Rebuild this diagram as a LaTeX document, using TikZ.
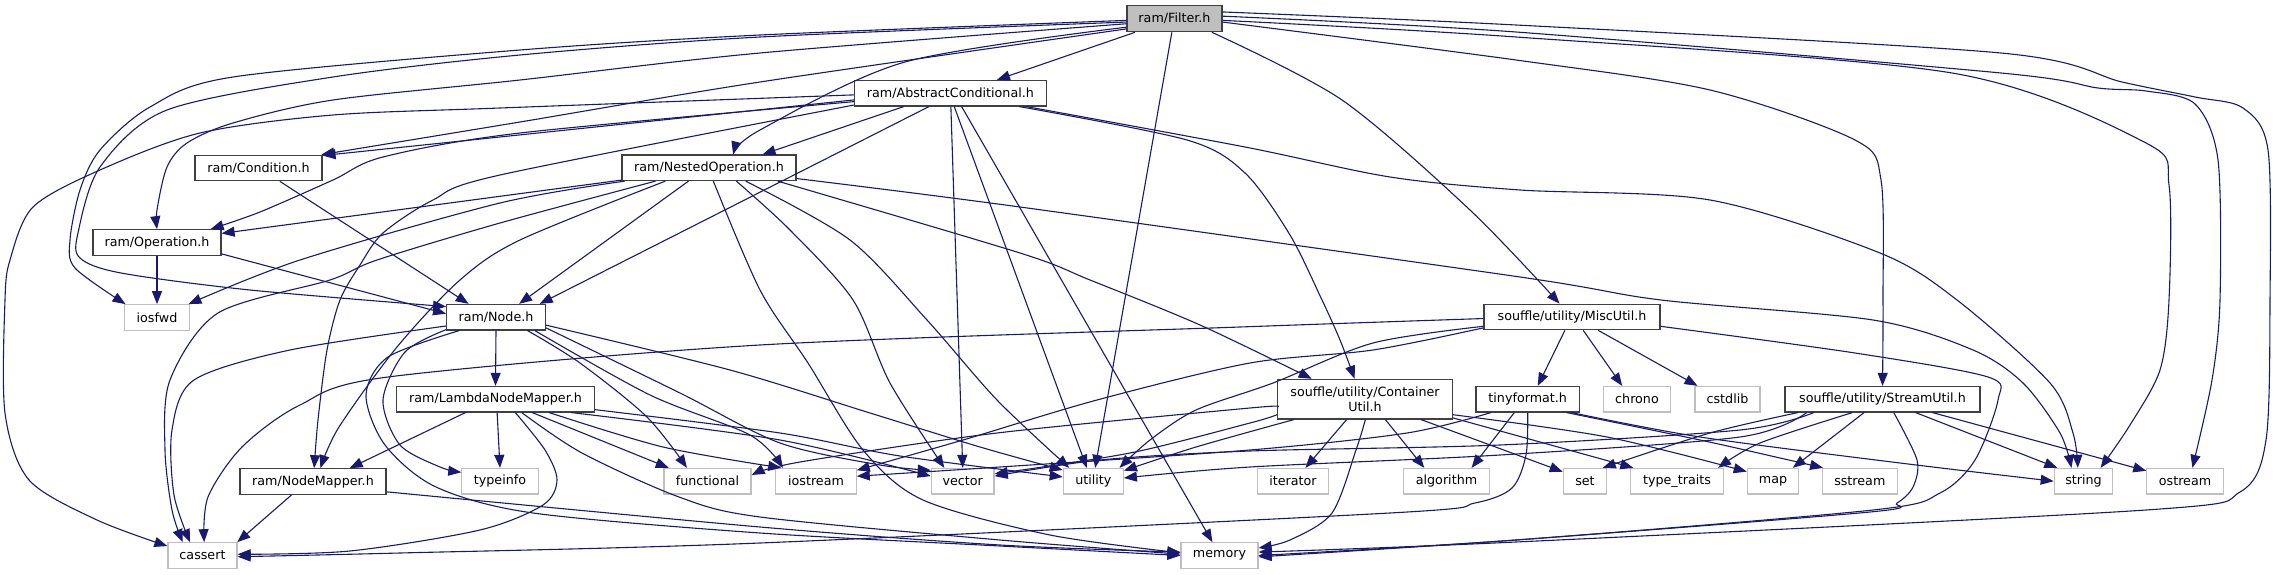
\documentclass[tikz,border=0pt]{standalone}
\usepackage{fontspec}
\setmainfont{DejaVu Sans}
\usetikzlibrary{arrows.meta}
\definecolor{edgeblue}{HTML}{191970}
\definecolor{grayfill}{HTML}{BFBFBF}
\definecolor{darkborder}{HTML}{404040}
\begin{document}
\begin{tikzpicture}[x=1pt,y=-1pt,
  box/.style={rectangle, inner sep=0pt, minimum height=25.5pt, font=\fontsize{12.7}{14.7}\selectfont, line width=1.2pt, text=black},
  proj/.style={box, draw=darkborder, fill=white},
  ext/.style={box, draw=grayfill, fill=white},
  root/.style={box, draw=darkborder, fill=grayfill},
  dep/.style={draw=edgeblue, line width=1.1pt, -{Triangle[length=13pt,width=10pt]}}]
\useasboundingbox (0,0) rectangle (2276,575);
% nodes
\node[root, minimum width=95pt, minimum height=26pt] (F) at (1174.5,18.7) {ram/Filter.h};
\node[proj, minimum width=192pt] (AC) at (950.4,93.2) {ram/AbstractConditional.h};
\node[proj, minimum width=127pt] (Cond) at (258.5,168) {ram/Condition.h};
\node[proj, minimum width=174pt] (NO) at (709,167.8) {ram/NestedOperation.h};
\node[proj, minimum width=128pt] (Op) at (157,242.5) {ram/Operation.h};
\node[ext, minimum width=65pt] (iosfwd) at (157,317.5) {iosfwd};
\node[proj, minimum width=98.6pt] (Node) at (496,317.2) {ram/Node.h};
\node[proj, minimum width=176pt] (Misc) at (1572,317) {souffle/utility/MiscUtil.h};
\node[proj, minimum width=197.6pt] (LNM) at (495.5,399.2) {ram/LambdaNodeMapper.h};
\node[proj, minimum width=174.6pt, minimum height=39.7pt, align=center] (CU) at (1365,399.2) {souffle/utility/Container\\Util.h};
\node[proj, minimum width=103.3pt] (tiny) at (1527.7,399.2) {tinyformat.h};
\node[ext, minimum width=67.4pt] (chrono) at (1637,399.2) {chrono};
\node[ext, minimum width=65pt] (cstdlib) at (1727.5,399.2) {cstdlib};
\node[proj, minimum width=195pt] (SU) at (1882.5,399.2) {souffle/utility/StreamUtil.h};
\node[proj, minimum width=146pt] (NM) at (313,481.5) {ram/NodeMapper.h};
\node[ext, minimum width=76.3pt] (typeinfo) at (500,481.2) {typeinfo};
\node[ext, minimum width=87pt] (functional) at (707.5,481.2) {functional};
\node[ext, minimum width=80.3pt] (iostream) at (816,481.2) {iostream};
\node[ext, minimum width=62.7pt] (vector) at (962.7,481.2) {vector};
\node[ext, minimum width=60pt] (utility) at (1093.3,481.2) {utility};
\node[ext, minimum width=71.4pt] (iterator) at (1293,481.2) {iterator};
\node[ext, minimum width=85.6pt] (algorithm) at (1446.5,481.2) {algorithm};
\node[ext, minimum width=43.4pt] (set) at (1585,481.2) {set};
\node[ext, minimum width=92.3pt] (typetraits) at (1677,481.2) {type\_traits};
\node[ext, minimum width=51.4pt] (map) at (1773,481.2) {map};
\node[ext, minimum width=75pt] (sstream) at (1859.8,481.2) {sstream};
\node[ext, minimum width=58.4pt] (string) at (2083.5,481.2) {string};
\node[ext, minimum width=76.3pt] (ostream) at (2185,481.2) {ostream};
\node[ext, minimum width=69pt] (cassert) at (202.5,555.5) {cassert};
\node[ext, minimum width=77pt] (memory) at (1219.5,555.5) {memory};
% Filter.h
\draw[dep] (F.199) -- (AC.16);
\draw[dep] (F.259) -- (utility.82);
\draw[dep] plot[smooth] coordinates {(F.190) (905,62) (760,130) (NO.29)};
\draw[dep] plot[smooth] coordinates {(F.192) (760,82) (520,122) (Cond.12)};
\draw[dep] plot[smooth] coordinates {(F.186) (760,53) (520,80) (333,100) (233,123) (187,143) (167,167) (157,210) (Op.north)};
\draw[dep] plot[smooth] coordinates {(F.182) (760,35) (520,50) (233,77) (150,107) (100,150) (80,190) (70,240) (75,268) (iosfwd.157)};
\draw[dep] plot[smooth] coordinates {(F.184) (760,37) (520,55) (333,77) (167,110) (100,167) (78,233) (80,258) (121,273) (250,290) (Node.168)};
\draw[dep] plot[smooth] coordinates {(F.340) (1342,100) (1470,210) (Misc.133)};
\draw[dep] plot[smooth] coordinates {(F.356) (1516,60) (1710,90) (1855,140) (1881,180) (1883,300) (SU.north)};
\draw[dep] plot[smooth] coordinates {(F.358) (1516,37) (1952,73) (2146,143) (2169,185) (2169,300) (2160,370) (2130,425) (string.38)};
\draw[dep] plot[smooth] coordinates {(F.3) (1516,32) (2001,73) (2098,88) (2146,91) (2195,104) (2218,160) (2220,300) (2212,380) (ostream.61)};
\draw[dep] plot[smooth] coordinates {(F.8) (1516,25) (2001,53) (2122,82) (2195,97) (2243,108) (2268,150) (2270,300) (2266,440) (2240,492) (2146,510) (1516,542) (memory.5)};
% AbstractConditional.h
\draw[dep] (AC.184) -- (Cond.11);
\draw[dep] plot[smooth] coordinates {(AC.185) (520,133) (383,157) (333,180) (260,212) (Op.14)};
\draw[dep] plot[smooth] coordinates {(AC.181) (500,108) (333,115) (200,133) (100,170) (33,207) (10,260) (5,300) (5,413) (29,480) (97,520) (cassert.165)};
\draw[dep] plot[smooth] coordinates {(AC.187) (500,175) (433,200) (383,233) (360,265) (340,300) (327,350) (318,420) (NM.85)};
\draw[dep] (AC.196) -- (NO.14);
\draw[dep] (AC.212) -- (Node.17);
\draw[dep] (AC.272) -- (vector.90);
\draw[dep] (AC.286) -- (utility.116);
\draw[dep] (AC.310) -- (memory.118);
\draw[dep] plot[smooth] coordinates {(AC.349) (1187,140) (1245,173) (1290,235) (1322,300) (1340,340) (CU.117)};
\draw[dep] plot[smooth] coordinates {(AC.350) (1245,147) (1390,177) (1520,190) (1710,200) (1880,253) (1957,300) (2050,383) (2073,433) (string.113)};
% Condition.h
\draw[dep] (Cond.328) -- (Node.154);
% NestedOperation.h
\draw[dep] (NO.188) -- (Op.8);
\draw[dep] plot[smooth] coordinates {(NO.189) (500,203) (300,260) (iosfwd.23)};
\draw[dep] plot[smooth] coordinates {(NO.194) (500,223) (377,260) (330,280) (218,313) (170,380) (165,450) (172,510) (cassert.146)};
\draw[dep] plot[smooth] coordinates {(NO.197) (520,240) (460,280) (397,347) (339,427) (NM.61)};
\draw[dep] (NO.213) -- (Node.30);
\draw[dep] plot[smooth] coordinates {(NO.288) (760,290) (808,363) (863,450) (923,500) (1050,535) (memory.176)};
\draw[dep] plot[smooth] coordinates {(NO.334) (790,230) (853,300) (890,383) (vector.144)};
\draw[dep] plot[smooth] coordinates {(NO.340) (850,240) (927,320) (997,400) (utility.151)};
\draw[dep] plot[smooth] coordinates {(NO.349) (1020,253) (1090,280) (1200,325) (CU.159)};
\draw[dep] plot[smooth] coordinates {(NO.353) (1020,207) (1520,277) (1661,300) (1873,320) (1973,350) (2023,383) (2060,433) (string.132)};
% Operation.h
\draw[dep] (Op.south) -- (iosfwd.north);
\draw[dep] (Op.350) -- (Node.176);
% Node.h
\draw[dep] (Node.south) -- (LNM.north);
\draw[dep] plot[smooth] coordinates {(Node.190) (290,350) (194,380) (172,430) (174,495) (cassert.133)};
\draw[dep] plot[smooth] coordinates {(Node.194) (405,352) (383,400) (400,445) (440,467) (typeinfo.167)};
\draw[dep] plot[smooth] coordinates {(Node.200) (388,357) (366,395) (385,445) (436,487) (533,513) (760,533) (1000,546) (memory.180)};
\draw[dep] plot[smooth] coordinates {(Node.337) (580,363) (647,417) (functional.147)};
\draw[dep] plot[smooth] coordinates {(Node.341) (650,395) (750,435) (iostream.158)};
\draw[dep] plot[smooth] coordinates {(Node.348) (680,393) (780,443) (880,465) (vector.161)};
\draw[dep] plot[smooth] coordinates {(Node.351) (730,370) (870,413) (980,447) (utility.160)};
% LambdaNodeMapper.h
\draw[dep] (LNM.204) -- (NM.20);
\draw[dep] (LNM.277) -- (typeinfo.90);
\draw[dep] plot[smooth] coordinates {(LNM.326) (545,450) (557,480) (543,505) (480,530) (350,551) (cassert.2)};
\draw[dep] (LNM.340) -- (functional.161);
\draw[dep] plot[smooth] coordinates {(LNM.346) (663,447) (iostream.159)};
\draw[dep] plot[smooth] coordinates {(LNM.350) (780,440) (vector.171)};
\draw[dep] plot[smooth] coordinates {(LNM.354) (780,433) (900,456) (utility.172)};
\draw[dep] plot[smooth] coordinates {(LNM.333) (582,453) (679,497) (760,517) (1000,540) (memory.178)};
% NodeMapper.h
\draw[dep] (NM.212) -- (cassert.21);
\draw[dep] plot[smooth] coordinates {(NM.352) (760,527) (1000,545) (memory.175)};
% MiscUtil.h
\draw[dep] (Misc.242) -- (tiny.53);
\draw[dep] (Misc.310) -- (chrono.138);
\draw[dep] (Misc.333) -- (cstdlib.156);
\draw[dep] plot[smooth] coordinates {(Misc.181) (1240,327) (760,345) (388,377) (300,405) (242,447) (208,497) (cassert.83)};
\draw[dep] plot[smooth] coordinates {(Misc.187) (1373,350) (1250,363) (1097,400) (963,440) (iostream.15)};
\draw[dep] plot[smooth] coordinates {(Misc.186) (1373,343) (1273,383) (1196,410) (1150,440) (utility.27)};
\draw[dep] plot[smooth] coordinates {(Misc.354) (1855,353) (1988,377) (1998,400) (1975,460) (1940,493) (1873,510) (1516,540) (memory.0)};
% tinyformat.h
\draw[dep] (tiny.225) -- (algorithm.28);
\draw[dep] plot[smooth] coordinates {(tiny.270) (1526,455) (1512,488) (1475,503) (1390,513) (760,543) (400,553) (cassert.358)};
\draw[dep] plot[smooth] coordinates {(tiny.200) (1407,433) (1250,450) (1000,467) (iostream.7)};
\draw[dep] plot[smooth] coordinates {(tiny.341) (1700,440) (1780,458) (sstream.160)};
\draw[dep] plot[smooth] coordinates {(tiny.343) (1700,437) (1900,463) (string.180)};
% ContainerUtil.h
\draw[dep] plot[smooth] coordinates {(CU.185) (1250,408) (997,433) (800,462) (functional.8)};
\draw[dep] plot[smooth] coordinates {(CU.190) (1250,423) (1130,453) (vector.13)};
\draw[dep] plot[smooth] coordinates {(CU.196) (1196,447) (utility.19)};
\draw[dep] (CU.228) -- (iterator.47);
\draw[dep] (CU.315) -- (algorithm.149);
\draw[dep] plot[smooth] coordinates {(CU.271) (1356,450) (1332,513) (1290,540) (memory.11)};
\draw[dep] (CU.340) -- (set.157);
\draw[dep] (CU.348) -- (typetraits.163);
\draw[dep] plot[smooth] coordinates {(CU.350) (1607,437) (map.160)};
% StreamUtil.h
\draw[dep] plot[smooth] coordinates {(SU.189) (1710,433) (set.37)};
\draw[dep] plot[smooth] coordinates {(SU.204) (1760,443) (typetraits.18)};
\draw[dep] (SU.216) -- (map.34);
\draw[dep] plot[smooth] coordinates {(SU.310) (1917,460) (1913,487) (1897,503) (1870,512) (1516,540) (memory.358)};
\draw[dep] (SU.338) -- (string.153);
\draw[dep] (SU.345) -- (ostream.165);
\draw[dep] plot[smooth] coordinates {(SU.191) (1740,430) (1500,445) (1250,451) (1100,460) (vector.9)};
\draw[dep] plot[smooth] coordinates {(SU.190) (1740,437) (1500,455) (1250,467) (utility.6)};
\end{tikzpicture}
\end{document}
